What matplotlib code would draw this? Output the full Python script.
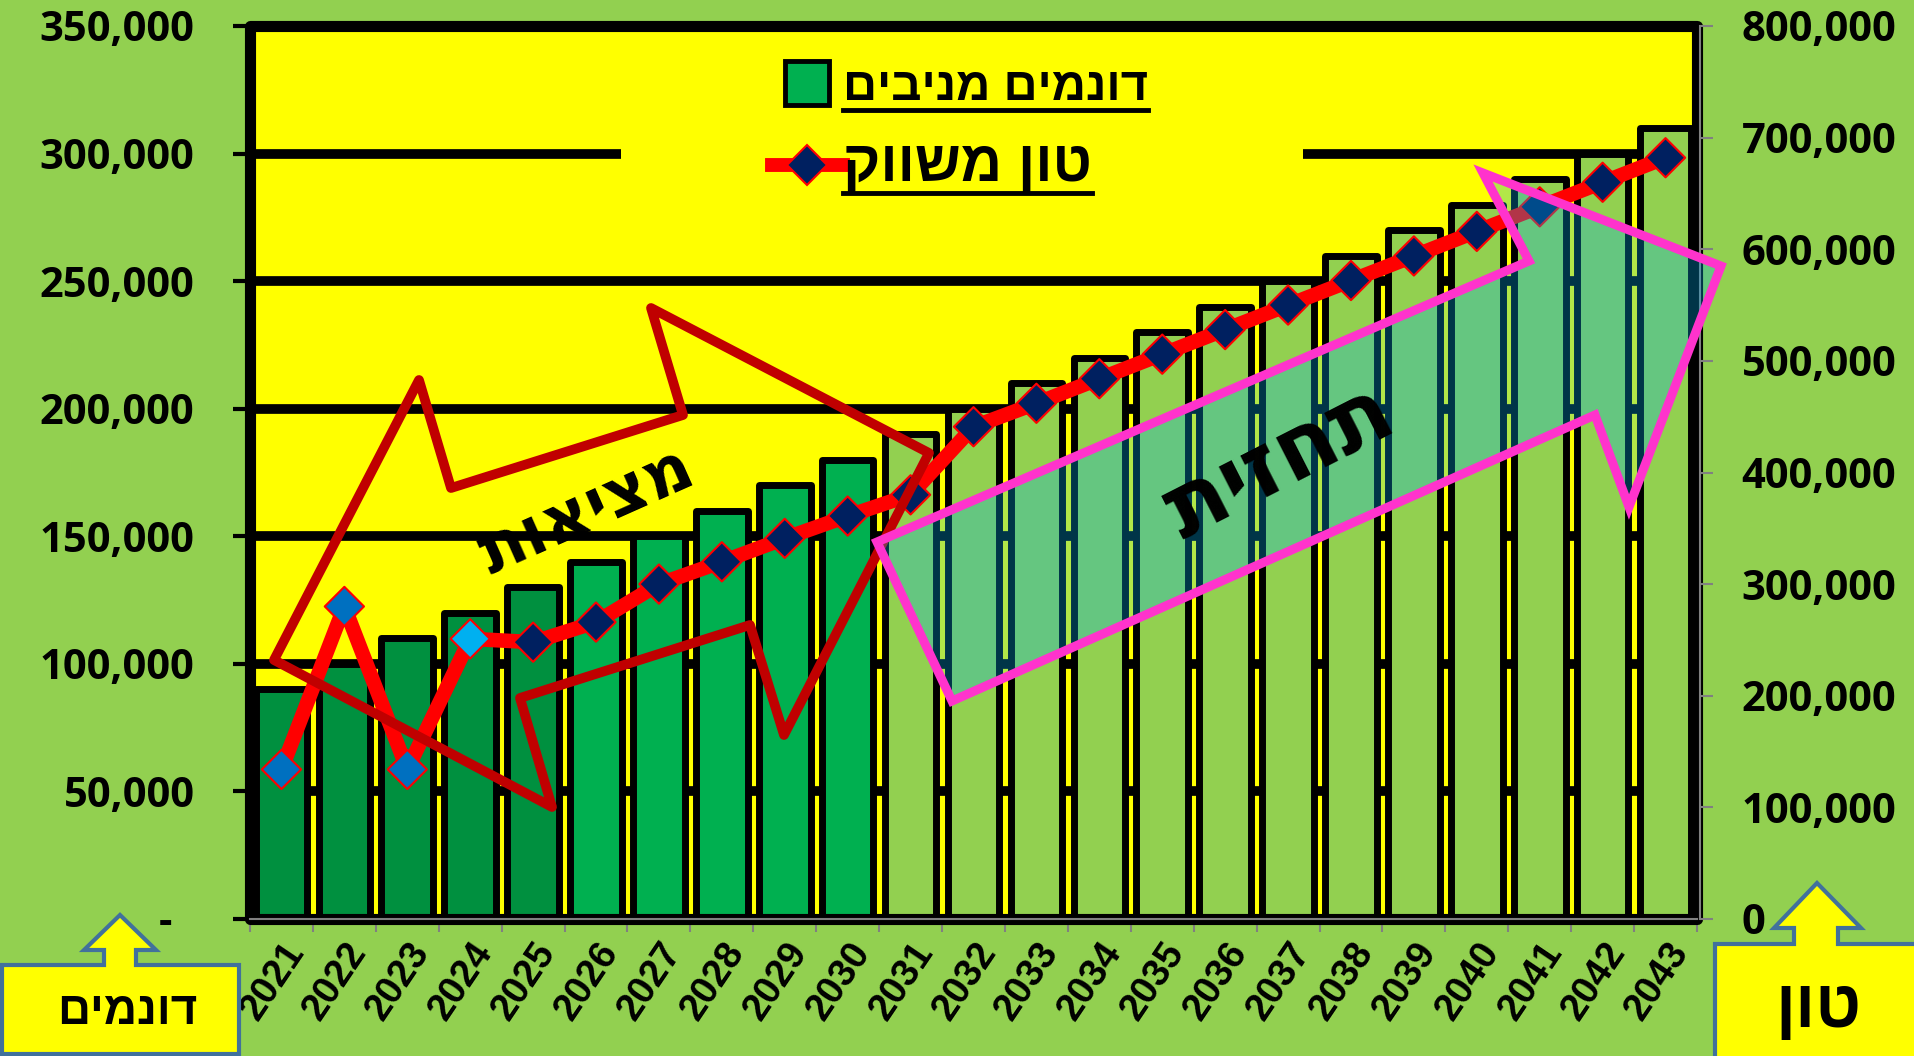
import numpy as np
import matplotlib
matplotlib.use('Agg')
import matplotlib.pyplot as plt
from matplotlib.lines import Line2D
from matplotlib.patches import Polygon, Rectangle

years = [2021, 2022, 2023, 2024, 2025, 2026, 2027, 2028, 2029, 2030, 2031, 2032,
         2033, 2034, 2035, 2036, 2037, 2038, 2039, 2040, 2041, 2042, 2043]
dunams = [90000, 100000, 110000, 120000, 130000, 140000, 150000, 160000, 170000, 180000, 190000, 200000,
          210000, 220000, 230000, 240000, 250000, 260000, 270000, 280000, 290000, 300000, 310000]
tons = [134000, 280000, 134000, 251000, 248000, 266000, 300000, 320000, 341000, 361000, 380000, 441000,
        462000, 484000, 506000, 528000, 550000, 572000, 594000, 616000, 638000, 660000, 682000]
bar_colors = ['#00903F'] * 5 + ['#00B050'] * 5 + ['#92D050'] * 13
marker_colors = ['#0070C0'] * 3 + ['#00B0F0'] + ['#002060'] * 19

left_ticks = [0, 50000, 100000, 150000, 200000, 250000, 300000, 350000]
left_labels = ['-  ', '50,000', '100,000', '150,000', '200,000', '250,000', '300,000', '350,000']
right_ticks = [0, 100000, 200000, 300000, 400000, 500000, 600000, 700000, 800000]
right_labels = ['0', '100,000', '200,000', '300,000', '400,000', '500,000', '600,000', '700,000', '800,000']

label_bars = 'דונמים מניבים'
label_line = 'טון משווק'
txt_real = 'מציאות'
txt_forecast = 'תחזית'
txt_left_unit = 'דונמים'
txt_right_unit = 'טון'


def heb(s):
    # matplotlib has no bidi support, so flip the Hebrew to visual order
    return s[::-1]


W, H = 1915, 1056


def fpt(pts):
    # pixel positions (from top-left) -> figure fraction
    return [(x / W, 1 - y / H) for x, y in pts]


num_font = ['Open Sans', 'DejaVu Sans']
heb_font = ['Liberation Sans', 'DejaVu Sans']

fig = plt.figure(figsize=(19.15, 10.56), dpi=100, facecolor='#92D050')
ax = fig.add_axes([250 / W, 1 - 919 / H, 1447 / W, 893 / H])
ax.set_facecolor('#FFFF00')

x = np.arange(len(years))
ax.bar(x, dunams, width=0.82, color=bar_colors, edgecolor='black', linewidth=5, joinstyle='round')
ax.set_xlim(-0.5, len(years) - 0.5)
ax.set_ylim(0, 350000)
ax.set_axisbelow(True)
ax.yaxis.grid(True, color='black', linewidth=7)

for s in ['left', 'top', 'right']:
    ax.spines[s].set_visible(False)
ax.spines['bottom'].set_color('#808080')
ax.spines['bottom'].set_linewidth(1.5)
ax.add_patch(Rectangle((0, 0), 1, 1, transform=ax.transAxes, fill=False, edgecolor='black',
                       linewidth=8, joinstyle='round', clip_on=False, zorder=2.4))

ax.set_yticks(left_ticks)
ax.set_yticklabels(left_labels, fontsize=30, fontweight='bold', family=num_font)
ax.tick_params(axis='y', length=12, width=3, color='black', pad=28)

ax.set_xticks(x)
ax.set_xticklabels([str(y) for y in years], rotation=56, ha='right', rotation_mode='anchor',
                   fontsize=27.5, fontweight='bold', family=heb_font)
ax.tick_params(axis='x', which='major', length=0, pad=12)
ax.set_xticks(np.arange(-0.5, len(years), 1), minor=True)
ax.tick_params(axis='x', which='minor', length=9, width=1.5, color='#808080')

# legend background hides the gridline behind it
ax.add_patch(Rectangle((621 / W, 1 - 215 / H), 682 / W, 168 / H, transform=fig.transFigure,
                       facecolor='#FFFF00', edgecolor='none', zorder=0.8))

ax2 = ax.twinx()
ax2.set_ylim(0, 800000)
ax2.plot(x, tons, color='red', linewidth=10.5, zorder=2)
ax2.scatter(x, tons, marker='D', s=400, c=marker_colors, edgecolors='red', linewidths=1.5, zorder=3)
for s in ['left', 'top', 'bottom']:
    ax2.spines[s].set_visible(False)
ax2.spines['right'].set_color('#808080')
ax2.spines['right'].set_linewidth(1.5)
ax2.spines['right'].set_position(('outward', 2))
ax2.set_yticks(right_ticks)
ax2.set_yticklabels(right_labels, fontsize=30, fontweight='bold', family=num_font)
ax2.tick_params(axis='y', length=9, width=1.5, color='#808080', pad=21)

h_bar = Line2D([], [], linestyle='none', marker='s', markersize=31, markerfacecolor='#00B050',
               markeredgecolor='black', markeredgewidth=3.5)
h_line = Line2D([], [], color='red', linewidth=10, marker='D', markersize=20,
                markerfacecolor='#002060', markeredgecolor='red', markeredgewidth=1.5)
leg = ax2.legend([h_bar, h_line], [heb(label_bars), heb(label_line)], frameon=False,
                 loc='upper left', bbox_to_anchor=(772 / W, 1 - 66 / H), bbox_transform=fig.transFigure,
                 handlelength=1.5, handletextpad=0.0, labelspacing=0.62, borderaxespad=0, borderpad=0,
                 prop={'family': heb_font, 'weight': 'bold', 'size': 34})
leg.get_texts()[1].set_fontsize(41)

# annotation shapes (pixel outlines)
real_shape = [(274, 660), (419, 380), (451, 488), (683, 415), (651, 308), (929, 453),
              (784, 735), (750, 625), (520, 698), (552, 807)]
forecast_arrow = [(877, 542), (1529, 261), (1483, 173), (1721, 266), (1629, 507), (1595, 415), (952, 701)]
left_callout = [(2, 1054), (2, 965), (104, 965), (104, 950), (84, 950), (120, 915), (156, 950),
                (136, 950), (136, 965), (239, 965), (239, 1054)]
right_callout = [(1715, 1060), (1715, 944), (1794, 944), (1794, 928), (1774, 928), (1817, 883),
                 (1861, 928), (1838, 928), (1838, 944), (1925, 944), (1925, 1060)]

fig.add_artist(Polygon(fpt(real_shape), closed=True, fill=False, edgecolor='#C00000', linewidth=7,
                       joinstyle='round', transform=fig.transFigure, zorder=5))
fig.add_artist(Polygon(fpt(forecast_arrow), closed=True, facecolor=(0, 176 / 255, 240 / 255, 0.3),
                       edgecolor='#FF33CC', linewidth=6.5, joinstyle='miter', transform=fig.transFigure,
                       zorder=5))
fig.add_artist(Polygon(fpt(left_callout), closed=True, facecolor='#FFFF00', edgecolor='#41719C',
                       linewidth=3, transform=fig.transFigure, zorder=6))
fig.add_artist(Polygon(fpt(right_callout), closed=True, facecolor='#FFFF00', edgecolor='#41719C',
                       linewidth=3, transform=fig.transFigure, zorder=6))

fig.text(587 / W, 1 - 513 / H, heb(txt_real), rotation=24, ha='center', va='center',
         fontsize=48, fontweight='bold', family=num_font, zorder=7)
fig.text(1280 / W, 1 - 464 / H, heb(txt_forecast), rotation=27, ha='center', va='center',
         fontsize=64, fontweight='bold', family=num_font, zorder=7)
fig.text(127 / W, 1 - 1012 / H, heb(txt_left_unit), ha='center', va='center',
         fontsize=33, fontweight='bold', family=heb_font, zorder=7)
fig.text(1818 / W, 1 - 1010 / H, heb(txt_right_unit), ha='center', va='center',
         fontsize=48, fontweight='bold', family=heb_font, zorder=7)

# underline the legend labels
fig.canvas.draw()
renderer = fig.canvas.get_renderer()
for t in leg.get_texts():
    bb = t.get_window_extent(renderer).transformed(fig.transFigure.inverted())
    fig.add_artist(Line2D([bb.x0, bb.x1], [bb.y0, bb.y0], transform=fig.transFigure,
                          color='black', linewidth=3.5, zorder=8))

fig.savefig('out.png', dpi=100, facecolor=fig.get_facecolor())
